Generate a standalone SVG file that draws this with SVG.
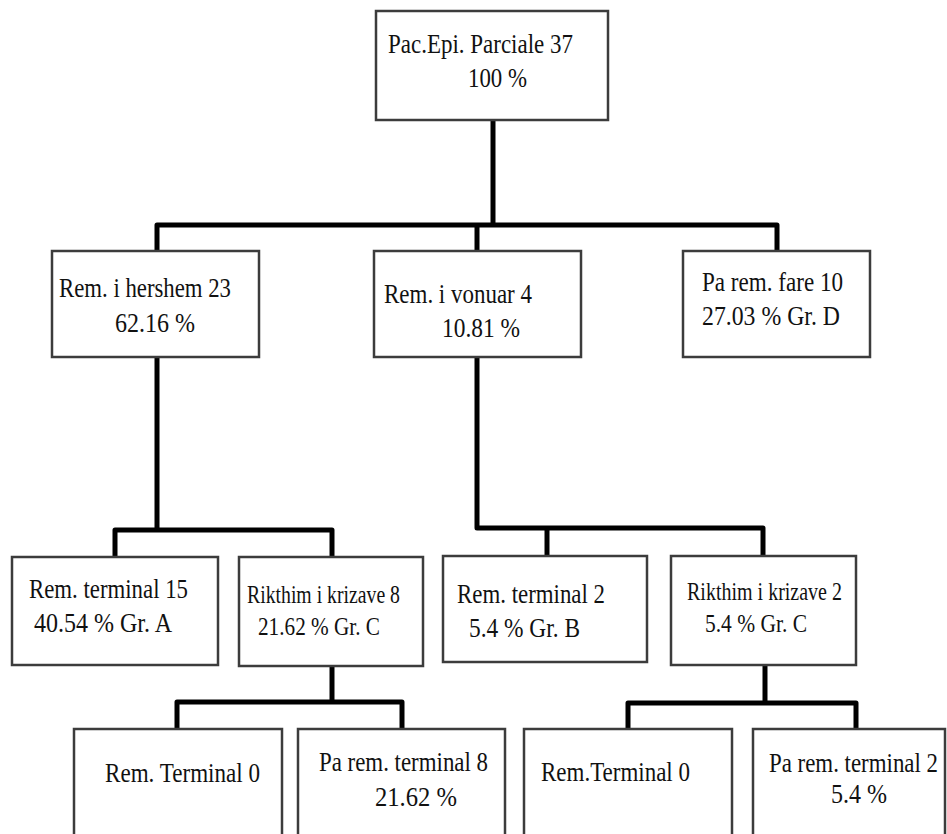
<svg xmlns="http://www.w3.org/2000/svg" width="947" height="834" viewBox="0 0 947 834">
  <style>
    .box { fill: #ffffff; stroke: #3c3c3c; stroke-width: 2.5; }
    .wire { fill: none; stroke: #000000; stroke-width: 5; stroke-linejoin: round; stroke-linecap: butt; }
    .t { font-family: "Liberation Serif", "Times New Roman", serif; font-size: 28px; fill: #111111; }
    .s { font-family: "Liberation Serif", "Times New Roman", serif; font-size: 25px; fill: #111111; }
  </style>
  <rect x="0" y="0" width="947" height="834" fill="#ffffff"/>

  <!-- connectors -->
  <g id="connectors">
    <path class="wire" d="M493 120 V225"/>
    <path class="wire" d="M157 251 V225 H777 V251"/>
    <path class="wire" d="M477 225 V251"/>
    <path class="wire" d="M157 357 V530"/>
    <path class="wire" d="M115 557 V530 H332 V557"/>
    <path class="wire" d="M477 357 V528 H763 V556"/>
    <path class="wire" d="M547 528 V556"/>
    <path class="wire" d="M332 666 V702"/>
    <path class="wire" d="M177 729 V702 H402 V729"/>
    <path class="wire" d="M765 665 V703"/>
    <path class="wire" d="M628 729 V703 H856 V729"/>
  </g>

  <!-- root -->
  <g id="root">
    <rect class="box" x="376" y="11" width="232" height="109"/>
    <text class="t" x="388" y="53" textLength="185" lengthAdjust="spacingAndGlyphs">Pac.Epi. Parciale 37</text>
    <text class="t" x="468" y="87" textLength="59" lengthAdjust="spacingAndGlyphs">100 %</text>
  </g>

  <!-- level 2 -->
  <g id="rem-hershem">
    <rect class="box" x="52" y="251" width="207" height="106"/>
    <text class="t" x="59" y="297" textLength="172" lengthAdjust="spacingAndGlyphs">Rem. i hershem 23</text>
    <text class="t" x="115" y="332" textLength="80" lengthAdjust="spacingAndGlyphs">62.16 %</text>
  </g>
  <g id="rem-vonuar">
    <rect class="box" x="374" y="251" width="207" height="106"/>
    <text class="t" x="384" y="303" textLength="148" lengthAdjust="spacingAndGlyphs">Rem. i vonuar 4</text>
    <text class="t" x="442" y="337" textLength="78" lengthAdjust="spacingAndGlyphs">10.81 %</text>
  </g>
  <g id="pa-rem-fare">
    <rect class="box" x="683" y="251" width="187" height="106"/>
    <text class="t" x="702" y="291" textLength="141" lengthAdjust="spacingAndGlyphs">Pa rem. fare 10</text>
    <text class="t" x="702" y="325" textLength="138" lengthAdjust="spacingAndGlyphs">27.03 % Gr. D</text>
  </g>

  <!-- level 3 -->
  <g id="rem-terminal-15">
    <rect class="box" x="12" y="557" width="206" height="108"/>
    <text class="t" x="29" y="598" textLength="159" lengthAdjust="spacingAndGlyphs">Rem. terminal 15</text>
    <text class="t" x="34" y="632" textLength="138" lengthAdjust="spacingAndGlyphs">40.54 % Gr. A</text>
  </g>
  <g id="rikthim-8">
    <rect class="box" x="239" y="557" width="184" height="109"/>
    <text class="s" x="247" y="603" textLength="153" lengthAdjust="spacingAndGlyphs">Rikthim i krizave 8</text>
    <text class="s" x="258" y="635" textLength="122" lengthAdjust="spacingAndGlyphs">21.62 % Gr. C</text>
  </g>
  <g id="rem-terminal-2">
    <rect class="box" x="443" y="556" width="204" height="106"/>
    <text class="t" x="457" y="603" textLength="148" lengthAdjust="spacingAndGlyphs">Rem. terminal 2</text>
    <text class="t" x="469" y="637" textLength="111" lengthAdjust="spacingAndGlyphs">5.4 % Gr. B</text>
  </g>
  <g id="rikthim-2">
    <rect class="box" x="671" y="556" width="185" height="109"/>
    <text class="s" x="687" y="600" textLength="155" lengthAdjust="spacingAndGlyphs">Rikthim i krizave 2</text>
    <text class="s" x="705" y="632" textLength="102" lengthAdjust="spacingAndGlyphs">5.4 % Gr. C</text>
  </g>

  <!-- level 4 -->
  <g id="rem-terminal-0-a">
    <rect class="box" x="74" y="729" width="208" height="130"/>
    <text class="t" x="105" y="782" textLength="155" lengthAdjust="spacingAndGlyphs">Rem. Terminal 0</text>
  </g>
  <g id="pa-rem-terminal-8">
    <rect class="box" x="298" y="729" width="207" height="130"/>
    <text class="t" x="319" y="771" textLength="169" lengthAdjust="spacingAndGlyphs">Pa rem. terminal 8</text>
    <text class="t" x="375" y="806" textLength="82" lengthAdjust="spacingAndGlyphs">21.62 %</text>
  </g>
  <g id="rem-terminal-0-b">
    <rect class="box" x="524" y="729" width="208" height="130"/>
    <text class="t" x="541" y="781" textLength="149" lengthAdjust="spacingAndGlyphs">Rem.Terminal 0</text>
  </g>
  <g id="pa-rem-terminal-2">
    <rect class="box" x="753" y="729" width="192" height="130"/>
    <text class="t" x="769" y="772" textLength="169" lengthAdjust="spacingAndGlyphs">Pa rem. terminal 2</text>
    <text class="t" x="831" y="803" textLength="56" lengthAdjust="spacingAndGlyphs">5.4 %</text>
  </g>
</svg>
